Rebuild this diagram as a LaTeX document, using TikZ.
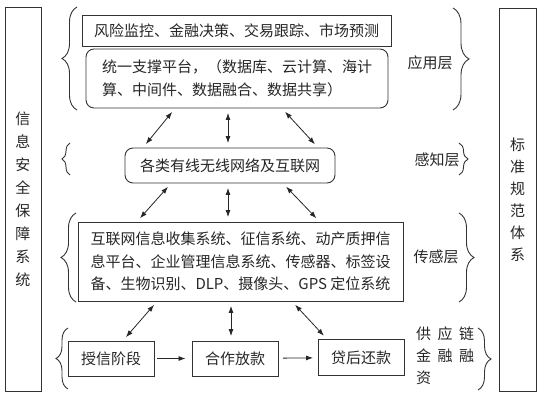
\documentclass[tikz,border=0pt]{standalone}
\usepackage{fontspec}
\setmainfont{Noto Sans CJK SC}
\usepackage{tikz}
\usetikzlibrary{arrows.meta,decorations.pathreplacing}
\newcommand{\sgap}{\hspace{6.5pt}}

\begin{document}
\begin{tikzpicture}[x=1pt,y=-1pt,font=\fontsize{15}{22.5}\selectfont,text=black!85]
	\useasboundingbox (0,0) rectangle (540,400);

	\begin{scope}[every node/.style={draw=black!80,line width=0.9pt,inner sep=0pt}]
		\node[minimum width=36pt,minimum height=384pt,align=center,font=\fontsize{15}{23}\selectfont] (safe) at (23,199) {信\\息\\安\\全\\保\\障\\系\\统};
		\node[minimum width=37pt,minimum height=383pt,align=center,font=\fontsize{15}{22}\selectfont] (std) at (517.5,199.5) {标\\准\\规\\范\\体\\系};

		\node[minimum width=309pt,minimum height=31pt] (risk) at (236.5,30.5) {风险监控、金融决策、交易跟踪、市场预测};
		\node[rounded corners=8pt,minimum width=302pt,minimum height=59pt,align=left] (plat) at (237,78.5) {统一支撑平台，（数据库、云计算、海计\\算、中间件、数据融合、数据共享）};
		\node[rounded corners=8pt,minimum width=210pt,minimum height=35pt] (net) at (230,165.5) {各类有线无线网络及互联网};
		\node[minimum width=325pt,minimum height=79pt,align=left] (sens) at (240.5,261.5) {互联网信息收集系统、征信系统、动产质押信\\息平台、企业管理信息系统、传感器、标签设\\备、生物识别、DLP、摄像头、GPS 定位系统};

		\node[minimum width=86pt,minimum height=35pt] (credit) at (111,358.5) {授信阶段};
		\node[minimum width=86pt,minimum height=35pt] (loan) at (235,358.5) {合作放款};
		\node[minimum width=86pt,minimum height=36pt] (repay) at (361,357.5) {贷后还款};
	\end{scope}

	\begin{scope}[every node/.style={inner sep=0pt}]
		\node (applab) at (430,63) {应用层};
		\node (netlab) at (437,160) {感知层};
		\node (senslab) at (436,257) {传感层};
		\node[anchor=west,align=left,font=\fontsize{15}{22}\selectfont] (scflab) at (416,356) {供\sgap 应\sgap 链\\金\sgap 融\sgap 融\\资};
	\end{scope}

	\begin{scope}[>={Latex[length=7pt,width=5pt]},
				  every edge/.style={draw=black!85,line width=0.8pt,shorten <=4.5pt,shorten >=4.5pt}]
		\path [<->] ([xshift=-62pt]plat.south) edge ([xshift=-87pt]net.north);
		\path [<->] ([xshift=-9pt]plat.south) edge ([xshift=-2pt]net.north);
		\path [<->] ([xshift=45pt]plat.south) edge ([xshift=88pt]net.north);
		\path [<->] ([xshift=-59pt]net.south) edge ([xshift=-103.5pt]sens.north);
		\path [<->] ([xshift=-2pt]net.south) edge ([xshift=-12.5pt]sens.north);
		\path [<->] ([xshift=53pt]net.south) edge ([xshift=79pt]sens.north);
		\path [<->] ([xshift=-83.5pt]sens.south) edge ([xshift=12pt]credit.north);
		\path [<->] ([xshift=-9.5pt]sens.south) edge ([xshift=-4pt]loan.north);
		\path [<->] ([xshift=51.5pt]sens.south) edge ([xshift=-34pt]repay.north);
		\path [->] (credit) edge [shorten <=3pt,shorten >=6pt] (loan);
		\path [->] (loan) edge (repay);
	\end{scope}

	\begin{scope}[draw=black!80,line width=0.9pt,decoration={brace}]
		% left braces
		\draw[decorate,decoration={amplitude=15pt}] (77,110) -- (77,7);
		\draw[decorate,decoration={amplitude=8pt}] (70,175) -- (70,143);
		\draw[decorate,decoration={amplitude=15pt}] (76,302) -- (76,213);
		\draw[decorate,decoration={amplitude=12pt}] (68,389) -- (68,328);
		% right braces
		\draw[decorate,decoration={amplitude=16pt}] (453,8) -- (453,110);
		\draw[decorate,decoration={amplitude=9pt}] (459,143) -- (459,175);
		\draw[decorate,decoration={amplitude=15pt}] (459,213) -- (459,302);
		\draw[decorate,decoration={amplitude=13pt}] (478,328) -- (478,390);
	\end{scope}
\end{tikzpicture}
\end{document}
